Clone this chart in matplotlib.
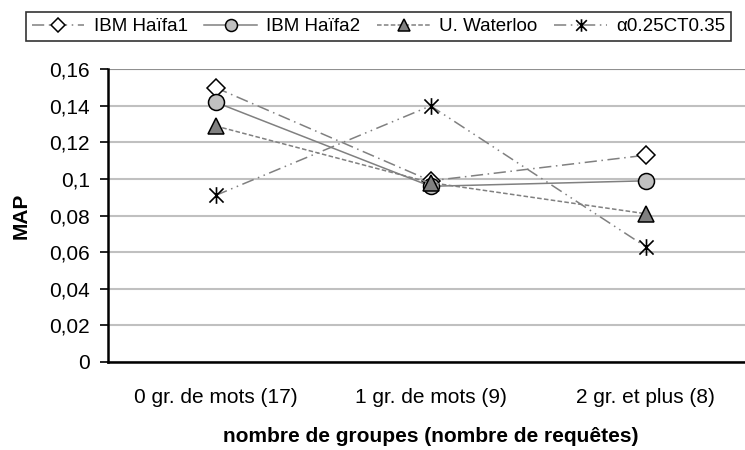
import numpy as np
from matplotlib import pyplot as plt
from matplotlib.path import Path
from matplotlib.ticker import FuncFormatter, MultipleLocator

plt.rcParams['font.family'] = ['Liberation Sans', 'DejaVu Sans']

categories = ['0 gr. de mots (17)', '1 gr. de mots (9)', '2 gr. et plus (8)']
haifa1 = [0.150, 0.099, 0.113]
haifa2 = [0.142, 0.096, 0.099]
waterloo = [0.129, 0.098, 0.081]
alpha_ct = [0.091, 0.140, 0.063]

series_names = ['IBM Haïfa1', 'IBM Haïfa2', 'U. Waterloo', 'α0.25CT0.35']

# marqueur étoile type Excel : X + trait vertical
star_path = Path([(0, -1), (0, 1), (-0.85, -0.85), (0.85, 0.85), (-0.85, 0.85), (0.85, -0.85)],
                 [Path.MOVETO, Path.LINETO, Path.MOVETO, Path.LINETO, Path.MOVETO, Path.LINETO])

fig = plt.figure(figsize=(7.45, 4.5), dpi=100)
ax = fig.add_axes([0.145, 0.196, 0.866, 0.650])

x = np.arange(len(categories))
grey = '#808080'

ax.plot(x, haifa1, color=grey, lw=1.1, ls=(0, (8, 3, 1, 3)),
        marker='D', markersize=9, markerfacecolor='white',
        markeredgecolor='black', markeredgewidth=1.1, label=series_names[0], zorder=3)
ax.plot(x, haifa2, color=grey, lw=1.1, ls='-',
        marker='o', markersize=11.5, markerfacecolor='#c0c0c0',
        markeredgecolor='black', markeredgewidth=1.1, label=series_names[1], zorder=3)
ax.plot(x, waterloo, color=grey, lw=1.1, ls=(0, (3, 1.5)),
        marker='^', markersize=12, markerfacecolor=grey,
        markeredgecolor='black', markeredgewidth=1.1, label=series_names[2], zorder=3)
ax.plot(x, alpha_ct, color=grey, lw=1.1, ls=(0, (8, 3, 1, 3, 1, 3)),
        marker=star_path, markersize=12, markeredgecolor='black',
        markeredgewidth=1.2, label=series_names[3], zorder=3)

ax.set_xlim(-0.5, 2.5)
ax.set_ylim(0, 0.16)
ax.yaxis.set_major_locator(MultipleLocator(0.02))

def comma_fmt(v, pos):
    s = ('%.2f' % v).rstrip('0').rstrip('.')
    return s.replace('.', ',')

ax.yaxis.set_major_formatter(FuncFormatter(comma_fmt))
ax.set_xticks(x)
ax.set_xticklabels(categories, fontsize=15)
ax.tick_params(axis='x', length=0, pad=19)
ax.tick_params(axis='y', direction='out', length=6, width=1.2, labelsize=15, pad=7)

ax.yaxis.grid(True, color='#c0c0c0', lw=1.5)
ax.set_axisbelow(True)
for side in ['top', 'right']:
    ax.spines[side].set_visible(False)
ax.axhline(0.16, color='#909090', lw=1.5, zorder=1)
ax.spines['left'].set_linewidth(1.8)
ax.spines['bottom'].set_linewidth(1.8)

fig.text(21 / 745, 0.521, 'MAP', rotation=90, ha='center', va='center',
         fontsize=15, fontweight='bold')
ax.set_xlabel('nombre de groupes (nombre de requêtes)', fontsize=15, fontweight='bold')
ax.xaxis.set_label_coords(0.5, -0.222)

leg = fig.legend(loc='center', bbox_to_anchor=(0.508, 0.941), ncol=4,
                 fontsize=13.5, frameon=True, fancybox=False, handlelength=2.8,
                 handletextpad=0.5, columnspacing=0.9, borderpad=0.3,
                 borderaxespad=0, markerscale=0.75)
leg.get_frame().set_edgecolor('black')
leg.get_frame().set_linewidth(1.2)

fig.savefig('out.png', dpi=100)
